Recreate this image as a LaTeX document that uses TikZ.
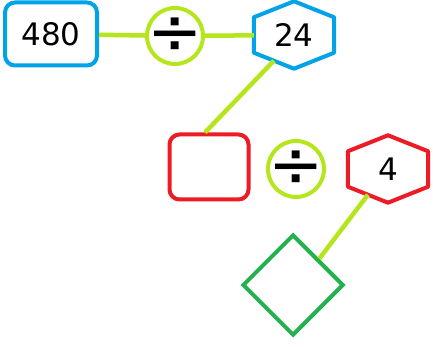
\documentclass[tikz,border=0pt]{standalone}
\usepackage{fontspec}
\setmainfont{DejaVu Sans}
\usetikzlibrary{shapes.geometric,calc}
\definecolor{skyblue}{HTML}{00A2E8}
\definecolor{lime}{HTML}{B5E61D}
\definecolor{redline}{HTML}{ED1C24}
\definecolor{grass}{HTML}{22B14C}

\begin{document}
\begin{tikzpicture}[x=1pt,y=1pt,
  box/.style={draw,rounded corners=10pt,line width=4pt,minimum width=92pt,minimum height=63pt,inner sep=0pt,font=\fontsize{31}{31}\selectfont},
  op/.style={circle,draw=lime,line width=4pt,minimum size=56pt,inner sep=-10pt,font=\fontsize{66}{66}\selectfont},
  hexa/.style={minimum width=80pt,minimum height=35pt,inner sep=0pt,font=\fontsize{31}{31}\selectfont,
    append after command={\pgfextra{\edef\hx{\tikzlastnode}
      \draw[#1,line width=4pt,line join=round] (\hx.north west) -- ([yshift=16pt]\hx.north) -- (\hx.north east)
        -- (\hx.south east) -- ([yshift=-16pt]\hx.south) coordinate (\hx-b) -- (\hx.south west) -- cycle;}}},
  link/.style={draw=lime,line width=4.5pt}]
  \useasboundingbox (0,0) rectangle (433,347);
  % first row
  \node[box,draw=skyblue] (B1) at (51,313) {480};
  \node[op] (C1) at (175,311) {÷};
  \node[hexa=skyblue] (H1) at (294,312) {24};
  % second row
  \node[box,draw=redline,minimum width=79pt,minimum height=65pt] (B2) at (209,180) {};
  \node[op] (C2) at (296,178) {÷};
  \node[hexa=redline] (H2) at (388,178) {4};
  % answer
  \node[diamond,draw=grass,line width=4pt,minimum width=101pt,minimum height=101pt,inner sep=0pt] (D) at (293,62) {};
  \draw[link] (B1) -- (C1);
  \draw[link] (C1) -- (H1);
  \draw[link] ($(H1.south west)!.5!(H1-b)$) -- ([xshift=-4pt]B2.north);
  \draw[link] ($(H2.south west)!.5!(H2-b)$) -- (D.north east);
\end{tikzpicture}
\end{document}
